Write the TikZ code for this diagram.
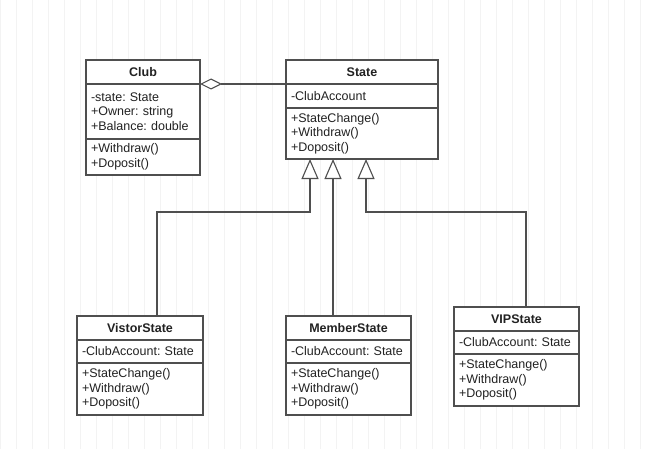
\documentclass[tikz,border=0pt]{standalone}
\usepackage{fontspec}
\setmainfont{Liberation Sans}
\usetikzlibrary{positioning,arrows.meta}
\definecolor{umlline}{HTML}{4F4F4F}
\definecolor{umltext}{HTML}{222222}
\definecolor{umlgrid}{HTML}{F3F3F3}
\frenchspacing

\begin{document}
\begin{tikzpicture}[x=1pt, y=-1pt,
    box/.style={draw=umlline, fill=white, line width=1.1pt, outer sep=0pt,
      inner xsep=5pt, inner ysep=0pt, text=umltext,
      font=\fontsize{12.5}{14.5}\selectfont},
    classname/.style={box, font=\fontsize{12.5}{14.5}\selectfont\bfseries,
      align=center, minimum height=24pt},
    members/.style={box, align=left, minimum height=#1},
    members/.default=23pt,
    aggr/.style={draw=umlline, line width=1.1pt,
      {Diamond[open, length=22pt, width=11pt, fill=white]}-},
    gen/.style={draw=umlline, line width=1.1pt,
      -{Triangle[open, length=20pt, width=17pt, fill=white]}}]
  \useasboundingbox (0,0) rectangle (652,449);
  \fill[white] (0,0) rectangle (652,449);
  \draw[umlgrid, line width=1pt, step=16] (0,0) grid (652,449);

  % Club
  \node[classname, text width=104pt, anchor=north west] (club) at (86,60) {Club};
  \node[members=55pt, text width=104pt, below=0pt of club] (club-a)
    {-state: State\\+Owner: string\\+Balance: double};
  \node[members=36pt, text width=104pt, below=0pt of club-a] (club-m)
    {+Withdraw()\\+Doposit()};

  % State
  \node[classname, text width=142pt, anchor=north west] (state) at (286,60) {State};
  \node[members=24pt, text width=142pt, below=0pt of state] (state-a) {-ClubAccount};
  \node[members=51pt, text width=142pt, below=0pt of state-a] (state-m)
    {+StateChange()\\+Withdraw()\\+Doposit()};

  % VistorState
  \node[classname, text width=116pt, anchor=north west] (vistor) at (77,316) {VistorState};
  \node[members, text width=116pt, below=0pt of vistor] (vistor-a) {-ClubAccount: State};
  \node[members=52pt, text width=116pt, below=0pt of vistor-a] (vistor-m)
    {+StateChange()\\+Withdraw()\\+Doposit()};

  % MemberState
  \node[classname, text width=115pt, anchor=north west] (member) at (286,316) {MemberState};
  \node[members, text width=115pt, below=0pt of member] (member-a) {-ClubAccount: State};
  \node[members=52pt, text width=115pt, below=0pt of member-a] (member-m)
    {+StateChange()\\+Withdraw()\\+Doposit()};

  % VIPState
  \node[classname, text width=115pt, anchor=north west] (vip) at (454,307) {VIPState};
  \node[members, text width=115pt, below=0pt of vip] (vip-a) {-ClubAccount: State};
  \node[members=52pt, text width=115pt, below=0pt of vip-a] (vip-m)
    {+StateChange()\\+Withdraw()\\+Doposit()};

  % aggregation
  \draw[aggr] (club-a.north east) -- (state-a.north west);

  % generalization
  \coordinate (g1) at ([xshift=24pt]state-m.south west);
  \coordinate (g2) at ([xshift=47pt]state-m.south west);
  \coordinate (g3) at ([xshift=80pt]state-m.south west);
  \draw[gen] ([xshift=17pt]vistor.north) -- ++(0,-104) -| (g1);
  \draw[gen] (g2 |- member.north) -- (g2);
  \draw[gen] ([xshift=9.5pt]vip.north) -- ++(0,-95) -| (g3);
\end{tikzpicture}
\end{document}
